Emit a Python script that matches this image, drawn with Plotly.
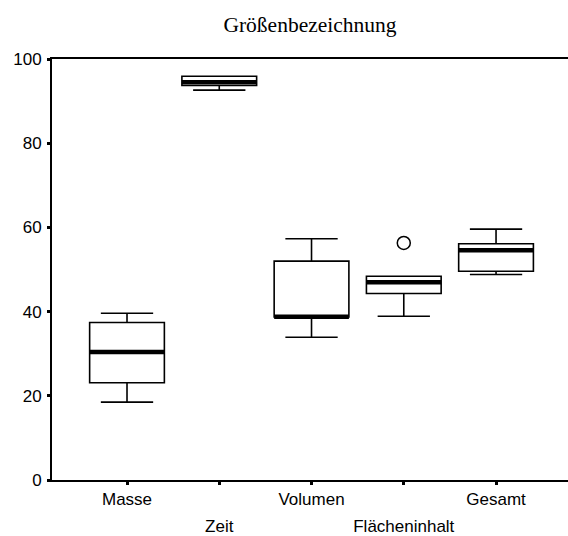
import plotly.graph_objects as go

categories = ["Masse", "Zeit", "Volumen", "Flächeninhalt", "Gesamt"]
q1 = [23.1, 93.7, 38.7, 44.3, 49.6]
median = [30.4, 94.5, 38.8, 47.0, 54.6]
q3 = [37.4, 95.9, 52.0, 48.4, 56.1]
lowerfence = [18.5, 92.6, 33.9, 38.9, 48.8]
upperfence = [39.6, 95.9, 57.3, 48.4, 59.6]
outlier_cat = ["Flächeninhalt"]
outlier_val = [56.3]
y_ticks = [0, 20, 40, 60, 80, 100]

pos = list(range(len(categories)))
box_w = 0.81

fig = go.Figure()
fig.add_trace(go.Box(
    x=pos, q1=q1, median=median, q3=q3,
    lowerfence=lowerfence, upperfence=upperfence,
    width=box_w, whiskerwidth=0.7, boxpoints=False,
    fillcolor="white", line=dict(color="black", width=1.6),
    hoverinfo="skip", showlegend=False,
))

mx, my = [], []
for i, m in enumerate(median):
    mx += [i - box_w / 2, i + box_w / 2, None]
    my += [m, m, None]
fig.add_trace(go.Scatter(x=mx, y=my, mode="lines",
                         line=dict(color="black", width=4.5),
                         hoverinfo="skip", showlegend=False))

ox = [categories.index(c) for c in outlier_cat]
fig.add_trace(go.Scatter(x=ox, y=outlier_val, mode="markers", xaxis="x2",
                         marker=dict(symbol="circle-open", size=13,
                                     color="black", line=dict(width=1.5)),
                         hoverinfo="skip", showlegend=False))

xr = [-0.813, 4.78]
font = dict(family="Liberation Sans, Arial, sans-serif", size=17, color="black")
fig.update_layout(
    width=568, height=536,
    margin=dict(l=52, r=0, t=59, b=56, autoexpand=False),
    paper_bgcolor="white", plot_bgcolor="white",
    title=dict(text="Größenbezeichnung", x=0.5, xref="paper", xanchor="center",
               y=1 - 24 / 536, yref="container", yanchor="middle",
               font=dict(family="Liberation Serif, Times New Roman, serif", size=21.5, color="black")),
    xaxis=dict(range=xr, tickvals=pos,
               ticktext=[c if i % 2 == 0 else "" for i, c in enumerate(categories)],
               ticks="outside", ticklen=3, tickwidth=3, tickcolor="black",
               showline=True, linecolor="black", linewidth=2, mirror=True,
               showgrid=False, zeroline=False, tickfont=font, ticklabelstandoff=0,
               automargin=False),
    xaxis2=dict(range=xr, overlaying="x", anchor="y", side="bottom",
                tickvals=[p for p in pos if p % 2 == 1],
                ticktext=[c for i, c in enumerate(categories) if i % 2 == 1],
                ticks="", showline=False, showgrid=False, zeroline=False,
                tickfont=font, ticklabelstandoff=34, automargin=False),
    yaxis=dict(range=[0, 100], tickvals=y_ticks,
               ticks="outside", ticklen=3, tickwidth=3, tickcolor="black",
               showline=True, linecolor="black", linewidth=2,
               showgrid=False, zeroline=False, tickfont=font, ticklabelstandoff=2,
               automargin=False),
)
fig.write_html("out.html", config={"displayModeBar": False},
               post_script="document.body.style.margin='0';")
